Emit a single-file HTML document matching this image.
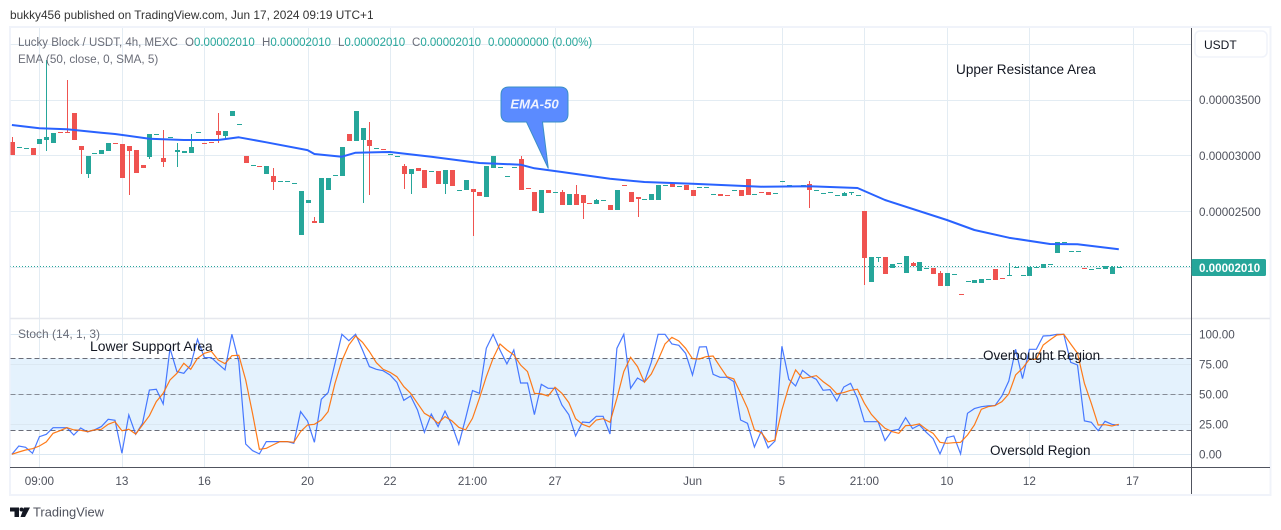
<!DOCTYPE html>
<html lang="en">
<head>
<meta charset="utf-8">
<title>Lucky Block / USDT chart</title>
<style>
html,body{margin:0;padding:0;background:#fff;width:1281px;height:530px;overflow:hidden}
svg{display:block;font-family:"Liberation Sans",sans-serif}
.ax{font-size:11.7px;fill:#50535e}
.note{font-size:13.5px;fill:#131722}
.leg{font-size:11.5px;fill:#6a6d78}
.val{font-size:11.5px;fill:#26a69a}
</style>
</head>
<body>
<svg id="chart" xmlns="http://www.w3.org/2000/svg" width="1281" height="530" viewBox="0 0 1281 530">
  <defs><clipPath id="plot-clip"><rect x="10.5" y="28" width="1181" height="439"/></clipPath></defs>
  <text x="10" y="19" font-size="11.85" fill="#333">bukky456 published on TradingView.com, Jun 17, 2024 09:19 UTC+1</text>
  <rect x="10" y="27" width="1260.5" height="468" fill="#fff" stroke="#f0f3fa" stroke-width="2"/>
  <g id="grid"></g>
  <rect id="band" fill="#e4f2fd"/>
  <g id="stoch-grid"></g>
  <g id="levels"></g>
  <line x1="10" x2="1270" y1="318.5" y2="318.5" stroke="#e6e8ee" stroke-width="1.5"/>
  <g clip-path="url(#plot-clip)">
    <line id="last-price-line" x1="10" x2="1191" stroke="#26a69a" stroke-dasharray="1 2"/>
    <g id="candles"></g>
    <path id="ema" fill="none" stroke="#2962ff" stroke-width="2" stroke-linejoin="round"/>
    <path id="stoch-k" fill="none" stroke="#2962ff" stroke-opacity="0.85" stroke-width="1.2"/>
    <path id="stoch-d" fill="none" stroke="#ff6d00" stroke-opacity="0.9" stroke-width="1.2"/>
  </g>
  <line x1="10" x2="1270" y1="467.5" y2="467.5" stroke="#50535e"/>
  <line x1="1191.5" x2="1191.5" y1="28" y2="494" stroke="#50535e"/>
  <g id="price-labels"></g>
  <g id="stoch-labels"></g>
  <g id="time-labels"></g>

  <g>
    <text class="leg" x="18" y="46">Lucky Block / USDT, 4h, MEXC</text>
    <text class="val" x="185" y="46"><tspan class="leg">O</tspan>0.00002010</text>
    <text class="val" x="262" y="46"><tspan class="leg">H</tspan>0.00002010</text>
    <text class="val" x="338" y="46"><tspan class="leg">L</tspan>0.00002010</text>
    <text class="val" x="412" y="46"><tspan class="leg">C</tspan>0.00002010</text>
    <text class="val" x="488" y="46">0.00000000 (0.00%)</text>
    <text class="leg" x="18" y="63" font-size="11.7" style="font-size:11.7px">EMA (50, close, 0, SMA, 5)</text>
    <text class="leg" x="18" y="338" style="font-size:12px">Stoch (14, 1, 3)</text>
  </g>

  <text class="note" x="956" y="74" style="font-size:13.6px">Upper Resistance Area</text>
  <text class="note" x="90" y="351" style="font-size:13.9px">Lower Support Area</text>
  <text class="note" x="983" y="360">Overbought Region</text>
  <text class="note" x="990" y="455">Oversold Region</text>

  <g>
    <path d="M509 87H560Q568 87 568 95V114Q568 122 560 122H542.5L548.3 168.5L526.5 122H509Q501 122 501 114V95Q501 87 509 87Z" fill="#5b8bff" stroke="#3a8fc7" stroke-width="1"/>
    <text x="534.5" y="108.5" text-anchor="middle" font-size="13.2" font-style="italic" font-weight="bold" fill="#eef2ff">EMA-50</text>
  </g>

  <g>
    <rect x="1195" y="31" width="72" height="26" rx="5" fill="#fff" stroke="#f0f3fa" stroke-width="1.5"/>
    <text x="1204" y="49" font-size="12" fill="#131722">USDT</text>
  </g>

  <g>
    <rect x="1191.5" y="259" width="74.5" height="17" rx="1.5" fill="#26a69a"/>
    <text id="last-price-text" x="1199" y="272" font-size="11.6" font-weight="bold" fill="#fff"></text>
  </g>

  <g>
    <path d="M10 507.5H19V517H14.5V511.5H10Z M24 507.5H30L25 517H20.5Z" fill="#131722"/>
    <circle cx="21.5" cy="509.5" r="2" fill="#131722"/>
    <text x="33" y="516.5" font-size="12.9" fill="#50535e">TradingView</text>
  </g>
</svg>
<script>
const opens=[3125,3080,3071,3071,3107,3143,3116,3214,3214,3384,
3089,2839,3027,3018,3045,3116,3107,3089,3053,2920,
2991,3196,2982,3170,3036,3027,3027,3214,3116,3125,
3223,3178,3357,3286,3000,2920,2911,2839,2821,2777,
2777,2759,2295,2580,2419,2402,2696,2830,2821,3196,
3134,3143,3143,3071,3062,3018,3000,2911,2839,2893,
2875,2866,2866,2750,2875,2696,2696,2705,2678,2634,
2893,2902,2821,2902,2973,2714,2678,2491,2696,2678,
2678,2562,2661,2652,2580,2571,2607,2562,2518,2741,
2678,2634,2616,2607,2607,2741,2759,2732,2741,2696,
2723,2723,2661,2661,2652,2696,2696,2795,2661,2678,
2678,2670,2777,2741,2732,2741,2750,2696,2670,2678,
2652,2643,2678,2652,2509,1875,2098,2098,2000,2044,
1955,2044,1973,2000,2000,1955,1839,1946,1768,1884,
1866,1866,1902,1991,1911,1937,2009,1937,1928,2009,
2000,2036,2134,2223,2152,2152,2000,1991,2000,1991,
1946,2009];
const closes=[3009,3080,3071,3009,3152,3170,3205,3213,3213,3143,
3053,3000,3027,3053,3116,3107,2803,3045,2848,2893,
3196,3196,2946,3170,3053,3045,3080,3214,3115,3124,
3187,3223,3402,3286,2937,2920,2910,2911,2768,2777,
2777,2759,2687,2607,2402,2803,2803,2830,3080,3134,
3402,3250,3089,3071,3061,3018,3000,2839,2884,2866,
2714,2866,2750,2875,2732,2696,2786,2678,2643,2911,
3000,2902,2821,2902,2696,2713,2509,2696,2670,2678,
2562,2661,2562,2580,2579,2607,2607,2518,2696,2740,
2589,2616,2616,2661,2741,2741,2723,2732,2696,2643,
2723,2723,2661,2643,2651,2696,2643,2652,2661,2677,
2652,2670,2777,2741,2732,2741,2696,2696,2670,2678,
2652,2670,2678,2652,2089,2098,2098,1946,2036,2044,
2107,2018,2053,2000,1946,1839,1955,1946,1767,1884,
1893,1902,1902,1893,1910,1937,2009,1937,2009,2009,
2036,2036,2232,2232,2152,2152,1999,1991,2000,2018,
2009,2009];
const highs=[3170,3080,3071,3071,3152,3857,3205,3214,3679,3384,
3089,3000,3027,3053,3116,3116,3107,3089,3053,2920,
3196,3196,3232,3170,3116,3045,3196,3214,3116,3125,
3384,3223,3402,3286,3000,2920,2911,2911,2893,2777,
2777,2759,2687,2607,2455,2803,2803,2830,3080,3196,
3402,3250,3304,3071,3062,3018,3000,2928,2884,2893,
2875,2866,2866,2875,2875,2696,2786,2705,2678,2911,
3000,2902,2821,2902,3000,2714,2678,2696,2696,2678,
2696,2661,2741,2652,2580,2616,2607,2562,2696,2741,
2678,2634,2616,2661,2741,2741,2759,2732,2741,2696,
2723,2723,2661,2661,2652,2696,2696,2795,2661,2678,
2678,2670,2777,2741,2732,2741,2777,2696,2670,2678,
2652,2678,2678,2652,2509,2098,2098,2098,2036,2044,
2107,2053,2053,2000,2000,1973,1955,1946,1768,1884,
1893,1902,1902,1991,1911,2044,2009,1937,2009,2009,
2036,2036,2232,2232,2152,2152,2000,1991,2009,2018,
2018,2009];
const lows=[3009,3080,3071,3009,3107,3045,3116,3213,3213,3143,
2839,2803,3027,3018,3045,3107,2803,2652,2848,2893,
2973,3196,2902,3170,2902,3027,3027,3214,3115,3124,
3116,3152,3357,3286,2937,2920,2910,2839,2696,2777,
2777,2759,2295,2580,2402,2402,2696,2830,2821,3134,
3134,2580,2652,3071,3061,3018,3000,2705,2661,2866,
2714,2866,2750,2661,2732,2696,2696,2286,2643,2634,
2893,2902,2821,2902,2696,2713,2509,2491,2670,2678,
2562,2562,2562,2437,2579,2571,2607,2518,2518,2740,
2589,2455,2616,2607,2607,2741,2723,2732,2696,2643,
2723,2723,2661,2643,2651,2696,2643,2652,2661,2677,
2652,2670,2777,2741,2732,2741,2536,2696,2670,2678,
2652,2643,2652,2652,1848,1875,2053,1946,2000,2044,
1955,2018,1973,2000,1946,1839,1839,1946,1767,1884,
1866,1866,1902,1893,1910,1937,2009,1937,1928,2009,
2000,2036,2134,2223,2152,2152,1999,1991,2000,1991,
1946,2009];
const emaBars=[0,4,8,13,15,20,25,30,33,37,43,44,48,50,55,61,68,74,76,80,87,92,99,109,116,123,127,136,140,145,151,155,161];
const emaValues=[3277,3247,3238,3208,3196,3154,3143,3143,3167,3122,3053,3018,2994,3029,3036,2994,2937,2922,2890,2857,2797,2768,2753,2726,2729,2714,2607,2428,2339,2270,2214,2211,2167];
const stochK=[0,6.9,5.8,0.8,14.7,16.7,22.2,22.2,22.2,16.1,
21.9,18.6,20.3,23.1,29.2,28.3,0.8,32.8,16.7,25.8,
53.6,54.2,41.9,88.3,68.9,67.5,74.4,95.8,80.6,80.6,
75.3,70.3,100,77.2,8.6,3.1,0.3,10.6,10.6,10.6,
10.6,9.2,35.6,27.8,10,45.8,51.4,75.8,100,94.7,
100,86.9,73.1,70.8,69.7,66.1,60,45,48.6,36.9,
18.3,33.5,23.1,36.1,24.4,8.3,30,53.1,50.8,88.3,
100,86.9,75.3,86.9,59.4,59.4,33.1,58.3,55,55,
41.1,33.1,15.3,26.9,26.4,31.7,31.7,16.9,88.3,100,
55,63.6,60.3,76.7,100,100,91.9,90.8,84.2,66.1,
89.4,89.7,66.7,64.2,64.2,60.6,28.6,25.8,6.1,19.4,
5.3,11.1,90,62.5,56.9,70,65.3,62.5,53.3,53.9,
44.4,56.1,59.2,46.7,27.2,27.2,27.2,11.4,19.7,20.8,
30.6,21.4,24.4,18.3,13.1,0.3,13.9,15.3,0.3,34.2,
38.1,39.7,40.3,40.6,48.6,61.1,87.5,63.1,87.5,87.5,
98.6,98.9,100,100,76.7,74.4,27.8,26.7,19.7,27.5,
25,24.2];
const stochD=[0,1.9,3.6,4.7,6.9,10.3,17.5,19.7,22.2,20.3,
20,18.9,20.3,20.8,25,27.2,19.7,20.8,16.9,24.4,
32.2,43.9,50.8,61.9,67.5,75.8,70.8,80,84.2,85.8,
78.6,75.6,82.2,82.5,61.9,34.2,4.2,5,7.8,10.6,
10.6,10,18.9,24.4,25,28.6,35.6,59.2,78,91.1,
98.6,93.3,85.6,76.4,70.8,68.3,64.7,56.4,50.8,42.5,
34.2,30.8,25.8,31.4,27.8,22.5,20.3,30,46.7,64.7,
80,91.9,86.9,82.8,74.4,68.9,50.8,50.3,48.6,55.8,
50.8,43.1,29.7,25,22.8,28.6,29.7,26.7,46.7,68.9,
80.8,73.1,60,66.9,78.6,91.9,97.5,94.4,88.3,79.7,
79.4,81.4,81.9,73.1,64.7,62.8,50.8,38.3,20.3,18.1,
10.3,11.9,36.9,56.4,70.3,63.3,64.2,65.6,60.6,56.4,
50.3,51.4,53.3,54.2,42.5,33.3,27.2,21.7,18.9,17.5,
23.9,24.2,25.3,20.8,17.5,10,9.2,9.7,10,16.1,
24.4,37.5,39.7,40.6,43.9,50.3,66.1,71.7,79.2,79.2,
91.1,95.3,99.4,100,91.9,84.2,59.2,42.5,24.4,24.7,
23.6,25];
const priceGridValues=[4000,3500,3000,2500,2000];
const priceTickValues=[3500,3000,2500];
const stochTickValues=[100,75,50,25,0];
const stochLevels=[80,50,20];
const timeLabels=["09:00","13","16","20","22","21:00","27","Jun","5","21:00","10","12","17"];
const timeLabelBars=[4,16,28,43,55,67,79,99,112,124,136,148,163];
const lastPrice=2010;

const SVGNS='http://www.w3.org/2000/svg';
function xBar(i){return 11.9+6.875*i;}
function yPrice(p){return (4393-p)/8.93;}
function yStoch(v){return 454.3-1.2*v;}
function crisp(v){return Math.floor(v)+0.5;}
function make(tag,parent){const el=document.createElementNS(SVGNS,tag);document.getElementById(parent).appendChild(el);return el;}
function setAll(el,o){for(const k in o)el.setAttribute(k,o[k]);}

timeLabelBars.forEach(function(b){
  const el=make('line','grid');
  
  
  const x=Math.round(xBar(b))+0.5;
  setAll(el,{x1:x,x2:x,y1:28,y2:467,stroke:'#e3ecf3'});
});
priceGridValues.forEach(function(p){
  const el=make('line','grid');
  
  
  const y=crisp(yPrice(p));
  setAll(el,{x1:10.5,x2:1191,y1:y,y2:y,stroke:'#e3ecf3'});
});

const band=document.getElementById('band');
setAll(band,{x:10.5,width:1181,y:yStoch(stochLevels[0]),height:yStoch(stochLevels[2])-yStoch(stochLevels[0])});

stochTickValues.forEach(function(v){
  const el=make('line','stoch-grid');
  
  
  const y=crisp(yStoch(v));
  setAll(el,{x1:10.5,x2:1191,y1:y,y2:y,stroke:'#dbe8f2'});
});
stochLevels.forEach(function(v,i){
  const el=make('line','levels');
  
  
  const y=crisp(yStoch(v));
  setAll(el,{x1:10.5,x2:1191,y1:y,y2:y,stroke:'#6a6d78','stroke-dasharray':'5 3','stroke-opacity':i===1?0.75:1});
});

const lastY=crisp(yPrice(lastPrice));
setAll(document.getElementById('last-price-line'),{y1:lastY,y2:lastY});
document.getElementById('last-price-text').textContent=(lastPrice/1e8).toFixed(8);

opens.forEach(function(o,i){
  const c=closes[i];
  const color=c>=o?'#26a69a':'#ef5350';
  const px=Math.round(xBar(i));
  const top=Math.round(yPrice(Math.max(o,c)));
  const bottom=Math.round(yPrice(Math.min(o,c)));
  const hi=Math.round(yPrice(highs[i]));
  const lo=Math.round(yPrice(lows[i]));
  if(lo-hi>Math.max(1,bottom-top)){
    const wick=make('rect','candles');
    
    
    setAll(wick,{x:px,y:hi,width:1,height:lo-hi,fill:color});
  }
  const body=make('rect','candles');
  
  
  setAll(body,{x:px-2,y:top,width:5,height:Math.max(1,bottom-top),fill:color});
});

document.getElementById('ema').setAttribute('d',emaBars.map(function(b,i){return (i?'L':'M')+xBar(b).toFixed(1)+' '+yPrice(emaValues[i]).toFixed(1);}).join(''));
document.getElementById('stoch-k').setAttribute('d',stochK.map(function(v,i){return (i?'L':'M')+xBar(i).toFixed(1)+' '+yStoch(v).toFixed(1);}).join(''));
document.getElementById('stoch-d').setAttribute('d',stochD.map(function(v,i){return (i?'L':'M')+xBar(i).toFixed(1)+' '+yStoch(v).toFixed(1);}).join(''));

priceTickValues.forEach(function(p){
  const el=make('text','price-labels');
  
  
  setAll(el,{x:1199,y:yPrice(p)+4,class:'ax'});
  el.textContent=(p/1e8).toFixed(8);
});
stochTickValues.forEach(function(v){
  const el=make('text','stoch-labels');
  
  
  setAll(el,{x:1199,y:yStoch(v)+4,class:'ax'});
  el.textContent=v.toFixed(2);
});
timeLabels.forEach(function(t,i){
  const el=make('text','time-labels');
  
  
  setAll(el,{x:xBar(timeLabelBars[i]),y:485,'text-anchor':'middle',class:'ax'});
  el.textContent=t;
});
</script>
</body>
</html>
